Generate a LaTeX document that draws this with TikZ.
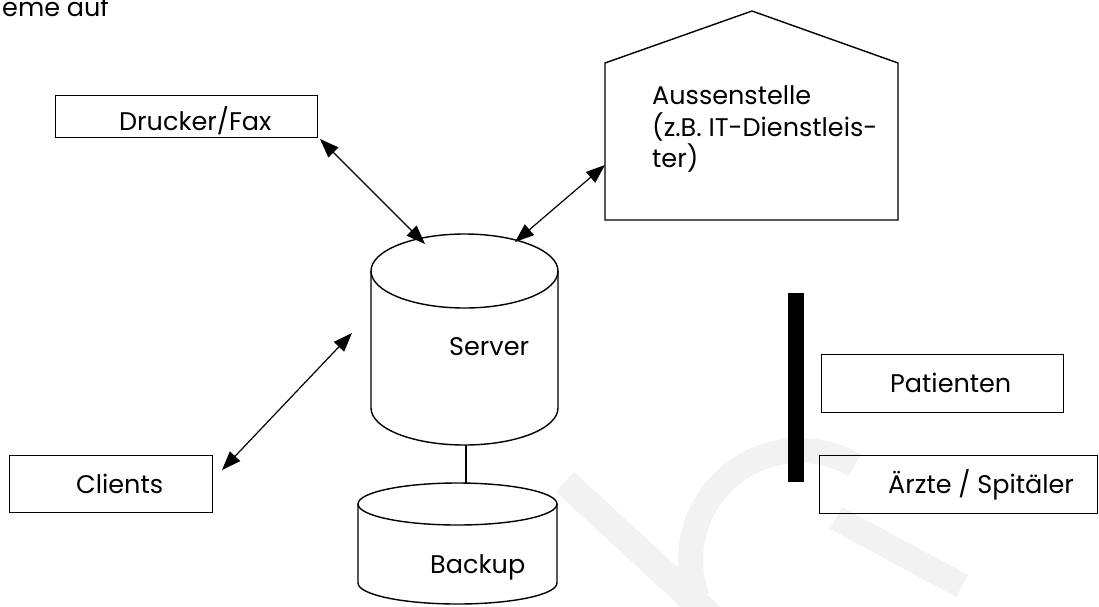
\documentclass[tikz,border=0pt]{standalone}
\usepackage{fontspec}
\setmainfont{Poppins}
\usetikzlibrary{arrows.meta}
\begin{document}
\begin{tikzpicture}[x=1pt,y=-1pt,
  lbl/.style={anchor=base west, inner sep=0pt, font=\fontsize{25.5}{31}\selectfont},
  box/.style={draw, line width=1.4pt, anchor=north west, inner sep=0pt},
  outline/.style={draw, line width=1.4pt},
  link/.style={line width=1.2pt,
    {Triangle[length=19pt,width=14pt]}-{Triangle[length=19pt,width=14pt]}},
  wm/.style={black!5}]
\useasboundingbox (0,0) rectangle (1099,606);

% faint logo in the background
\begin{scope}
  \clip (0,0) rectangle (1099,606);
  \draw[wm, line width=27pt] (565,482) -- (715,620);
  \fill[wm] ([shift={(160:122)}]800,560) arc[start angle=160, end angle=300, radius=122]
        -- ([shift={(300:97)}]800,560) arc[start angle=300, end angle=160, radius=97] -- cycle;
  \draw[wm, line width=25pt] (836,518) -- (962,586);
\end{scope}

% running text above the sketch
\node[lbl] (cut) at (2,16) {eme auf};

% printer / fax
\node[box, minimum width=262pt, minimum height=42pt] (drucker) at (55,95) {};
\node[lbl] (druckerT) at (119,130) {Drucker/Fax};

% remote site (house shape)
\draw[outline] (605,220) -- (605,63) -- (752,11) -- (898,63) -- (898,220) -- cycle;
\node[lbl] (aus1) at (652,104) {Aussenstelle};
\node[lbl] (aus2) at (652,136) {(z.B. IT-Dienstleis-};
\node[lbl] (aus3) at (652,167) {ter)};

% server cylinder
\draw[outline] (371,271) -- (371,408) arc[start angle=180, end angle=0, x radius=93.5, y radius=37] -- (558,271);
\draw[outline] (464.5,271) ellipse[x radius=93.5, y radius=37];
\node[lbl] (server) at (449,355) {Server};

% backup cylinder
\draw[outline] (358,504) -- (358,583) arc[start angle=180, end angle=0, x radius=99.5, y radius=21] -- (557,504);
\draw[outline] (457.5,504) ellipse[x radius=99.5, y radius=21];
\node[lbl] (backup) at (430,573) {Backup};

% clients
\node[box, minimum width=203pt, minimum height=57pt] (clients) at (9,455) {};
\node[lbl] (clientsT) at (76,493) {Clients};

% separating bar and external parties
\fill (788,293) rectangle (804,482);
\node[box, minimum width=242pt, minimum height=58pt] (pat) at (821,354) {};
\node[lbl] (patT) at (890,392) {Patienten};
\node[box, minimum width=278pt, minimum height=58pt] (arzt) at (819,455) {};
\node[lbl] (arztT) at (888,493) {Ärzte / Spitäler};

% connector end points
\coordinate (dTip) at (320,139);
\coordinate (sNW) at (425,244);
\coordinate (aTip) at (605,165);
\coordinate (sNE) at (515,242);
\coordinate (sW) at (352,333);
\coordinate (cTip) at (222,470);
\coordinate (sBot) at (466,445);
\coordinate (bTop) at (466,483);

\draw[link] (dTip) -- (sNW);
\draw[link] (aTip) -- (sNE);
\draw[link] (sW) -- (cTip);
\draw[line width=1.4pt] (sBot) -- (bTop);
\end{tikzpicture}
\end{document}
